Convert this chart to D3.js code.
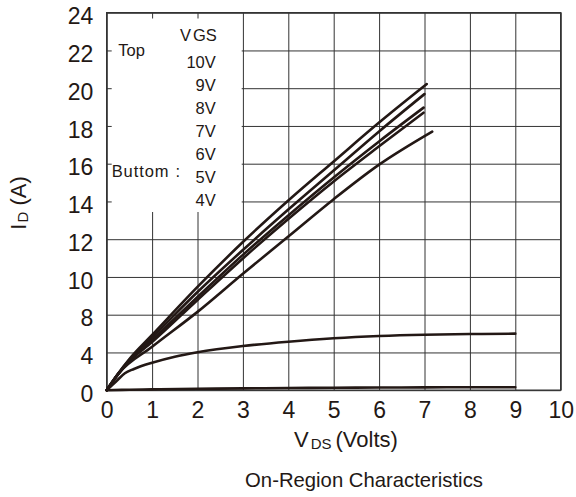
<!DOCTYPE html>
<html>
<head>
<meta charset="utf-8">
<script src="https://cdn.jsdelivr.net/npm/d3@7"></script>
<style>
  body { margin: 0; background: #fff; }
  svg { display: block; font-family: "Liberation Sans", Arial, Helvetica, sans-serif; }
</style>
</head>
<body>
<svg id="chart" width="576" height="497"></svg>
<script>
// Axis ticks (the drain-current axis steps 0,4,8 then every 2 A)
const xTicks = [0, 1, 2, 3, 4, 5, 6, 7, 8, 9, 10];
const yTicks = [0, 4, 8, 10, 12, 14, 16, 18, 20, 22, 24];

// Gate voltages, top to bottom
const legendLabels = ["10V", "9V", "8V", "7V", "6V", "5V", "4V"];

// Output curves, [VDS (V), ID (A)]
const vgs10 = [[0,0],[0.25,1.75],[0.5,3.3],[1,5.85],[2,9.47],[3,11.85],[4,14.05],[5,16.12],[6,18.18],[7.05,20.22]];
const vgs9  = [[0,0],[0.25,1.72],[0.5,3.22],[1,5.58],[2,9.2],[3,11.43],[4,13.57],[5,15.64],[6,17.71],[7,19.69]];
const vgs8  = [[0,0],[0.25,1.7],[0.5,3.14],[1,5.32],[2,8.94],[3,11.17],[4,13.26],[5,15.27],[6,17.18],[6.98,18.97]];
const vgs7  = [[0,0],[0.25,1.68],[0.5,3.06],[1,5.1],[2,8.78],[3,10.98],[4,13.07],[5,15.06],[6,16.92],[6.98,18.7]];
const vgs6  = [[0,0],[0.25,1.7],[1,4.6],[2,8.15],[3,10.17],[4,12.14],[5,14.12],[6,15.95],[7.17,17.7]];
const vgs5  = [[0,0],[0.2,0.9],[0.4,1.8],[0.6,2.25],[1,2.91],[1.5,3.55],[2,4.02],[3,4.68],[4,5.14],[5,5.5],[6,5.74],[7,5.88],[8,5.95],[9,5.99]];
const vgs4  = [[0,0],[0.5,0.05],[1,0.09],[2,0.15],[3,0.19],[4,0.23],[5,0.26],[6,0.28],[7,0.3],[8,0.31],[9,0.32]];

const curves = [vgs10, vgs9, vgs8, vgs7, vgs6, vgs5, vgs4];

const ink = "#231815";
const svg = d3.select("#chart");

const plot = { left: 106.7, right: 560.7, top: 12.7, bottom: 390.2 };
const x = d3.scaleLinear().domain([0, 10]).range([plot.left, plot.right]);
// gridlines are evenly spaced, so map each tick value to an equal step
const y = d3.scaleLinear()
  .domain(yTicks)
  .range(yTicks.map((d, i) => plot.bottom - i * (plot.bottom - plot.top) / (yTicks.length - 1)));

const W = plot.right - plot.left, H = plot.bottom - plot.top;

// grid
const grid = svg.append("g").attr("class", "grid");
grid.append("g")
  .attr("transform", `translate(0,${plot.bottom})`)
  .call(d3.axisBottom(x).tickValues(xTicks).tickSize(-H).tickFormat(""))
  .call(g => g.select(".domain").remove())
  .call(g => g.selectAll("line").attr("stroke", "#333").attr("stroke-width", 1));
grid.append("g")
  .attr("transform", `translate(${plot.left},0)`)
  .call(d3.axisLeft(y).tickValues(yTicks).tickSize(-W).tickFormat(""))
  .call(g => g.select(".domain").remove())
  .call(g => g.selectAll("line").attr("stroke", "#333").attr("stroke-width", 1));

// frame
svg.append("rect")
  .attr("x", plot.left).attr("y", plot.top)
  .attr("width", W).attr("height", H)
  .attr("fill", "none").attr("stroke", "#333").attr("stroke-width", 1.4);

// legend panel covering the grid
svg.append("rect")
  .attr("x", 111.7).attr("y", 18.5)
  .attr("width", 130).attr("height", 193.5)
  .attr("fill", "#fff");

// curves
const line = d3.line()
  .x(d => x(d[0]))
  .y(d => y(d[1]))
  .curve(d3.curveMonotoneX);

svg.append("g").selectAll("path")
  .data(curves)
  .join("path")
  .attr("d", line)
  .attr("fill", "none")
  .attr("stroke", ink)
  .attr("stroke-width", 2.6)
  .attr("stroke-linecap", "round");

// tick labels
svg.append("g")
  .attr("transform", `translate(${plot.left},0)`)
  .call(d3.axisLeft(y).tickValues(yTicks).tickSize(0).tickPadding(13.4))
  .call(g => g.select(".domain").remove())
  .call(g => g.selectAll("text")
    .attr("dy", "0.49em")
    .attr("font-size", 23)
    .attr("font-family", "Liberation Sans, Arial, sans-serif")
    .attr("fill", ink));

svg.append("g")
  .attr("transform", `translate(0,${plot.bottom})`)
  .call(d3.axisBottom(x).tickValues(xTicks).tickSize(0).tickPadding(0))
  .call(g => g.select(".domain").remove())
  .call(g => g.selectAll("text")
    .attr("y", 28.1).attr("dy", 0)
    .attr("font-size", 23)
    .attr("font-family", "Liberation Sans, Arial, sans-serif")
    .attr("fill", ink));

// axis titles
const xt = svg.append("text")
  .attr("x", 294).attr("y", 446.7)
  .attr("font-size", 22).attr("fill", ink);
xt.append("tspan").text("V");
xt.append("tspan").attr("font-size", 15).attr("dx", 2).attr("dy", 1.8).text("DS");
xt.append("tspan").attr("dx", 4).attr("dy", -1.8).text("(Volts)");

const yt = svg.append("text")
  .attr("transform", "translate(26,203) rotate(-90)")
  .attr("text-anchor", "middle")
  .attr("font-size", 22).attr("fill", ink);
yt.append("tspan").text("I");
yt.append("tspan").attr("font-size", 15).attr("dx", 1).attr("dy", 2).text("D");
yt.append("tspan").attr("dy", -2).text(" (A)");

svg.append("text")
  .attr("x", 364).attr("y", 487)
  .attr("text-anchor", "middle")
  .attr("font-size", 20.3).attr("fill", ink)
  .text("On-Region Characteristics");

// legend text
const lg = svg.append("g").attr("fill", ink).attr("font-size", 16.5);
const vgsTitle = lg.append("text").attr("x", 180).attr("y", 40.7);
vgsTitle.append("tspan").text("V");
vgsTitle.append("tspan").attr("dx", 2).text("GS");
lg.append("text").attr("x", 118.3).attr("y", 56).text("Top");
lg.append("text").attr("x", 111.7).attr("y", 176.7).attr("letter-spacing", 0.9).text("Buttom");
lg.append("text").attr("x", 175.5).attr("y", 176.7).text(":");
lg.selectAll("text.vg")
  .data(legendLabels)
  .join("text")
  .attr("class", "vg")
  .attr("x", 215.8)
  .attr("y", (d, i) => 68.3 + i * 22.9)
  .attr("text-anchor", "end")
  .text(d => d);
</script>
</body>
</html>
